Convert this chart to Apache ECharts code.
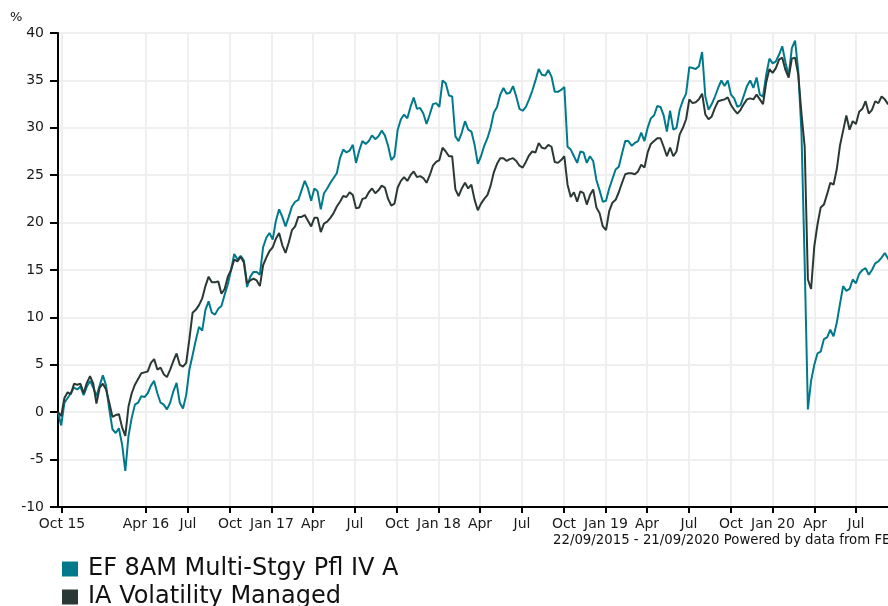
<!DOCTYPE html>
<html><head><meta charset="utf-8">
<script src="https://cdn.jsdelivr.net/npm/echarts@6/dist/echarts.min.js"></script>
<style>html,body{margin:0;padding:0;background:#fff}#c{width:888px;height:606px}</style>
</head><body><div id="c"></div>
<script>
const seriesNames = ['EF 8AM Multi-Stgy Pfl IV A', 'IA Volatility Managed'];
const seriesColors = ['#007a8b', '#2b3936'];
const firstDate = '2015-09-22';
const visibleEndDate = '2020-09-08';
const stepDays = 7;

const fundValues = [
  0.0, -1.4, 1.0, 1.5, 2.0, 2.6, 2.4, 2.7, 1.8, 2.7,
  3.3, 2.6, 1.7, 2.8, 3.9, 2.8, 0.3, -1.8, -2.2, -1.7,
  -3.4, -6.2, -2.5, -0.6, 0.8, 1.0, 1.7, 1.6, 2.0, 2.8,
  3.3, 2.0, 1.0, 0.8, 0.3, 1.0, 2.2, 3.1, 1.0, 0.4,
  1.8, 4.5, 6.0, 7.6, 9.0, 8.6, 10.8, 11.7, 10.5, 10.3,
  10.9, 11.2, 12.4, 13.5, 15.0, 16.7, 16.1, 16.5, 16.0, 13.2,
  14.3, 14.8, 14.8, 14.5, 17.4, 18.4, 18.9, 18.2, 20.2, 21.4,
  20.6, 19.6, 20.6, 21.7, 22.2, 22.4, 23.4, 24.4, 23.6, 22.3,
  23.6, 23.3, 21.4, 23.1, 23.6, 24.2, 24.7, 25.2, 26.8, 27.7,
  27.4, 27.6, 28.2, 26.3, 27.6, 28.6, 28.3, 28.6, 29.2, 28.8,
  29.1, 29.7, 29.2, 28.1, 26.6, 27.0, 29.8, 30.9, 31.4, 31.0,
  32.2, 33.2, 32.0, 32.1, 31.5, 30.4, 31.4, 32.5, 32.6, 32.2,
  35.0, 34.7, 33.4, 33.3, 29.1, 28.6, 29.5, 30.7, 29.8, 29.6,
  28.2, 26.2, 27.0, 28.1, 28.9, 30.0, 31.6, 32.2, 33.5, 34.2,
  33.6, 33.7, 34.4, 33.3, 32.0, 31.8, 32.2, 33.0, 33.9, 35.0,
  36.2, 35.6, 35.5, 36.1, 35.4, 33.8, 33.8, 34.0, 34.3, 28.0,
  27.7, 27.0, 26.3, 27.5, 27.4, 26.3, 27.0, 26.5, 24.5, 23.4,
  22.2, 22.3, 23.6, 24.6, 25.6, 25.9, 27.3, 28.6, 28.6, 28.1,
  28.4, 28.6, 29.5, 28.6, 30.0, 31.0, 31.3, 32.3, 32.2, 31.3,
  29.6, 31.8, 29.8, 30.0, 31.9, 32.9, 33.6, 36.4, 36.3, 36.2,
  36.5, 38.0, 33.3, 31.9, 32.5, 33.3, 34.2, 35.0, 34.4, 35.0,
  33.5, 33.1, 32.2, 32.4, 33.4, 34.4, 35.0, 34.2, 35.3, 33.5,
  33.3, 35.6, 37.3, 36.8, 37.0, 37.7, 38.6, 36.9, 35.5, 38.4,
  39.2, 36.0, 29.5, 15.7, 0.3, 3.3, 5.0, 6.2, 6.4, 7.7,
  7.9, 8.7, 8.0, 9.4, 11.4, 13.3, 12.8, 13.0, 14.0, 13.6,
  14.6, 15.0, 15.2, 14.5, 15.0, 15.7, 15.9, 16.3, 16.8, 16.2, 15.6
];

const sectorValues = [
  0.0, -0.4, 1.5, 2.1, 1.9, 3.0, 2.9, 3.0, 2.0, 3.1,
  3.8, 3.0, 0.9, 2.6, 3.0, 2.4, 1.0, -0.5, -0.3, -0.2,
  -1.6, -2.5, 0.6, 2.0, 2.9, 3.5, 4.1, 4.2, 4.3, 5.2,
  5.6, 4.5, 4.7, 4.0, 3.7, 4.5, 5.4, 6.2, 5.0, 4.8,
  5.2, 7.7, 10.5, 10.8, 11.3, 12.0, 13.3, 14.3, 13.7, 13.7,
  13.8, 12.5, 13.0, 14.3, 15.0, 16.1, 15.9, 16.4, 15.8, 13.6,
  13.9, 14.1, 13.9, 13.3, 15.5, 16.3, 17.0, 17.4, 18.3, 18.9,
  17.6, 16.8, 17.9, 19.2, 19.6, 20.6, 20.6, 20.8, 20.2, 19.6,
  20.5, 20.5, 19.0, 19.9, 20.1, 20.5, 21.0, 21.7, 22.2, 22.8,
  22.7, 23.2, 22.9, 21.5, 21.6, 22.5, 22.6, 23.2, 23.6, 23.1,
  23.4, 23.9, 23.7, 22.5, 21.8, 22.0, 23.7, 24.4, 24.8, 24.4,
  25.0, 25.4, 24.8, 24.9, 24.7, 24.2, 25.0, 26.0, 26.4, 26.6,
  27.9, 27.5, 27.0, 27.0, 23.5, 22.8, 23.6, 24.2, 23.6, 24.0,
  22.4, 21.3, 22.0, 22.5, 22.9, 23.9, 25.3, 26.2, 26.8, 26.8,
  26.5, 26.7, 26.8, 26.5, 26.0, 25.8, 26.4, 27.1, 27.5, 27.4,
  28.4, 27.9, 27.8, 28.2, 28.0, 26.4, 26.3, 26.6, 27.0, 24.0,
  22.7, 23.2, 22.2, 23.3, 23.1, 21.9, 22.9, 23.5, 21.6, 21.0,
  19.6, 19.2, 21.2, 22.1, 22.4, 23.2, 24.2, 25.1, 25.2, 25.2,
  25.1, 25.4, 26.1, 25.8, 27.4, 28.3, 28.6, 28.9, 28.9, 28.0,
  27.0, 27.9, 27.0, 27.5, 29.3, 30.0, 30.9, 33.0, 32.6, 32.7,
  33.0, 33.6, 31.4, 30.9, 31.2, 32.1, 32.8, 32.9, 33.0, 33.2,
  32.4, 31.9, 31.5, 31.9, 32.5, 33.0, 33.1, 33.0, 33.5, 33.0,
  32.5, 34.8, 36.2, 35.8, 36.3, 37.2, 37.4, 36.1, 35.3, 37.3,
  37.4, 35.6, 31.5, 28.0, 14.0, 13.0, 17.5, 19.8, 21.6, 21.9,
  23.0, 24.2, 24.0, 25.6, 28.1, 29.7, 31.3, 29.8, 30.7, 30.4,
  31.7, 32.0, 32.8, 31.5, 31.9, 32.8, 32.6, 33.3, 33.0, 32.5, 33.0
];

const tickDates = ['2015-10-01','2016-04-01','2016-07-01','2016-10-01','2017-01-01','2017-04-01','2017-07-01','2017-10-01','2018-01-01','2018-04-01','2018-07-01','2018-10-01','2019-01-01','2019-04-01','2019-07-01','2019-10-01','2020-01-01','2020-04-01','2020-07-01'];
const tickLabels = ['Oct 15','Apr 16','Jul','Oct','Jan 17','Apr','Jul','Oct','Jan 18','Apr','Jul','Oct','Jan 19','Apr','Jul','Oct','Jan 20','Apr','Jul'];
const yMin = -10, yMax = 40, yStep = 5;
const yUnit = '%';
const footerText = '22/09/2015 - 21/09/2020 Powered by data from FE';

const FONT = '"DejaVu Sans", Verdana, sans-serif';
const t0 = new Date(firstDate + 'T00:00:00').getTime();
const dayMs = 86400000;
const toPairs = vals => vals.map((v, i) => [t0 + i * stepDays * dayMs, v]);
const tickData = tickDates.map(d => [new Date(d + 'T00:00:00').getTime(), yMin]);

const legendText = {fontFamily: FONT, fontSize: 24, color: '#111', padding: [0, 0, 0, 5]};
const chart = echarts.init(document.getElementById('c'), null, {renderer: 'canvas'});
chart.setOption({
  animation: false,
  backgroundColor: '#ffffff',
  grid: {left: 58, top: 33, right: 0, bottom: 99, containLabel: false},
  legend: [
    {orient: 'vertical', left: 57, top: 552, itemWidth: 16, itemHeight: 15, icon: 'rect',
     data: [seriesNames[0]], textStyle: legendText, selectedMode: false},
    {orient: 'vertical', left: 57, top: 580, itemWidth: 16, itemHeight: 15, icon: 'rect',
     data: [seriesNames[1]], textStyle: legendText, selectedMode: false}
  ],
  graphic: [
    {type: 'text', x: 10, y: 18, style: {text: yUnit, font: '13px ' + FONT, fill: '#111', align: 'left', verticalAlign: 'middle'}},
    {type: 'text', x: 553, y: 541, style: {text: footerText, font: '13.3px ' + FONT, fill: '#111', align: 'left', verticalAlign: 'middle'}}
  ],
  xAxis: {
    type: 'time',
    min: new Date(firstDate + 'T00:00:00').getTime(),
    max: new Date(visibleEndDate + 'T00:00:00').getTime(),
    axisLine: {show: true, onZero: false, lineStyle: {color: '#000', width: 2}},
    axisTick: {show: false},
    axisLabel: {show: false},
    splitLine: {show: false}
  },
  yAxis: {
    type: 'value', min: yMin, max: yMax, interval: yStep,
    axisLine: {show: true, lineStyle: {color: '#000', width: 2}},
    axisTick: {show: true, length: 8, lineStyle: {color: '#000', width: 2}},
    axisLabel: {fontFamily: FONT, fontSize: 14, color: '#1a1a1a', margin: 14},
    splitLine: {show: true, lineStyle: {color: '#efefef', width: 2}}
  },
  series: [
    {
      type: 'custom', name: 'xticks', z: 1, clip: false, silent: true,
      data: tickData, encode: {x: 0, y: 1},
      renderItem: (params, api) => {
        const p0 = api.coord([api.value(0), yMin]);
        const p1 = api.coord([api.value(0), yMax]);
        const x = Math.round(p0[0]);
        return {type: 'group', children: [
          {type: 'line', shape: {x1: x, y1: p1[1], x2: x, y2: p0[1] - 1}, style: {stroke: '#efefef', lineWidth: 2}},
          {type: 'line', shape: {x1: x, y1: p0[1], x2: x, y2: p0[1] + 6}, style: {stroke: '#000', lineWidth: 2}},
          {type: 'text', x: x, y: p0[1] + 17, style: {text: tickLabels[params.dataIndex], font: '14px ' + FONT, fill: '#1a1a1a', align: 'center', verticalAlign: 'middle'}}
        ]};
      }
    },
    {
      type: 'line', name: seriesNames[0], data: toPairs(fundValues), z: 2, clip: true,
      showSymbol: false, symbol: 'none', color: seriesColors[0],
      lineStyle: {color: seriesColors[0], width: 2}
    },
    {
      type: 'line', name: seriesNames[1], data: toPairs(sectorValues), z: 3, clip: true,
      showSymbol: false, symbol: 'none', color: seriesColors[1],
      lineStyle: {color: seriesColors[1], width: 2}
    }
  ]
});
</script>
</body></html>
